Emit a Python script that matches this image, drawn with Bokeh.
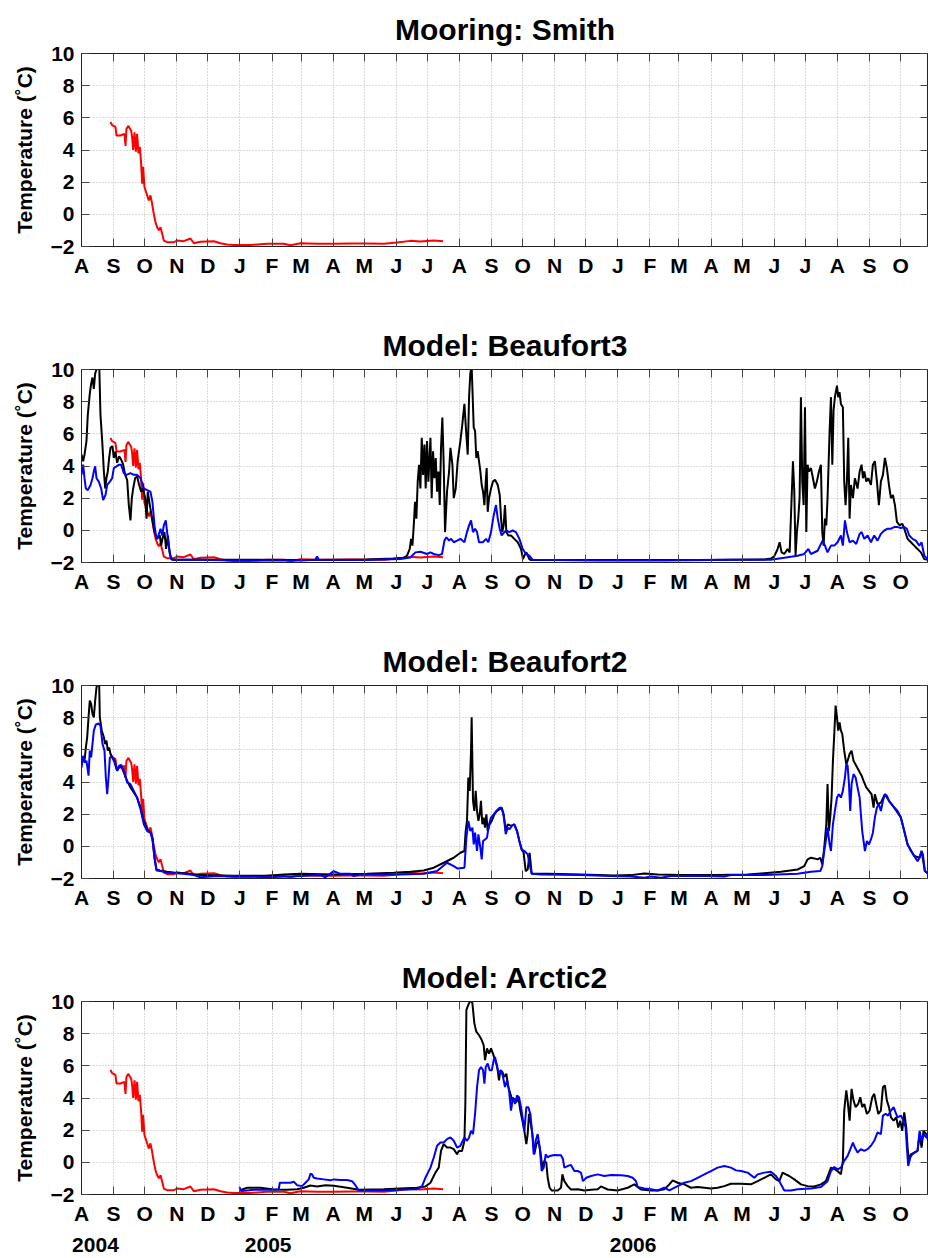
from datetime import date
from bokeh.plotting import figure
from bokeh.models import Range1d, FixedTicker, LinearAxis
from bokeh.layouts import column
from bokeh.embed import file_html
from bokeh.resources import INLINE

# ---------------- data (x = days since 1 Aug 2004, y = temperature in deg C) ----------------
mooring_smith = [
    (28.0, 5.74), (29.6, 5.54), (32.8, 5.43), (33.8, 4.9), (37.7, 4.9), (41.5, 5.0), (42.5, 4.25),
    (43.4, 5.3), (45.1, 5.5), (48.0, 5.2), (48.9, 4.8), (49.9, 4.0), (51.2, 5.1), (52.5, 3.9),
    (53.7, 5.0), (55.0, 3.8), (56.3, 4.2), (57.6, 3.15), (58.6, 1.9), (59.5, 2.95), (60.8, 1.7),
    (62.8, 1.3), (65.0, 0.86), (66.6, 1.18), (68.2, 0.66), (69.8, 0.03), (71.4, -0.48), (73.1, -0.8),
    (74.7, -1.0), (76.3, -0.8), (77.9, -1.2), (79.5, -1.63), (82.7, -1.73), (89.1, -1.73),
    (92.4, -1.63), (98.8, -1.67), (105.2, -1.5), (108.5, -1.8), (114.9, -1.7), (127.8, -1.67),
    (134.2, -1.8), (140.6, -1.88), (147.1, -1.9), (163.2, -1.9), (179.3, -1.83), (195.4, -1.83),
    (201.8, -1.92), (211.4, -1.8), (227.5, -1.83), (243.6, -1.83), (259.7, -1.81), (275.8, -1.81),
    (291.9, -1.83), (304.8, -1.75), (317.6, -1.65), (327.3, -1.69), (340.2, -1.63), (349.2, -1.67),
]

beaufort3_black = [
    (0.0, 4.71), (1.6, 4.3), (2.9, 4.7), (4.8, 5.55), (6.1, 7.2), (8.0, 8.5), (9.3, 9.1), (10.6, 9.5),
    (11.9, 8.8), (13.2, 9.75), (14.5, 10.0), (17.1, 10.4), (18.3, 7.2), (20.0, 5.55), (21.6, 3.66),
    (22.9, 2.6), (24.1, 3.25), (25.4, 3.66), (26.7, 4.5), (28.0, 5.13), (29.9, 5.24), (31.2, 4.5),
    (32.8, 4.9), (34.4, 4.2), (36.4, 4.6), (38.3, 4.4), (40.2, 4.1), (42.2, 3.45), (44.1, 3.14),
    (45.7, 1.57), (47.3, 0.62), (48.6, 2.0), (49.9, 2.6), (51.8, 3.25), (53.7, 3.35), (55.7, 2.82),
    (57.6, 2.4), (59.5, 2.6), (61.5, 2.0), (62.8, 0.73), (64.0, 2.4), (66.0, 1.57), (68.2, 0.73),
    (70.5, -0.11), (73.1, -0.53), (75.6, -0.32), (76.9, -0.95), (78.2, -0.53), (80.1, -0.11),
    (81.7, -1.16), (83.4, -0.32), (85.0, -1.37), (86.6, -1.79), (89.1, -1.83), (147.1, -1.83),
    (211.4, -1.85), (243.6, -1.83), (275.8, -1.81), (301.5, -1.75), (311.2, -1.7), (314.4, -1.58),
    (317.0, -1.16), (318.3, -0.53), (319.6, -0.95), (320.9, 0.31), (322.1, 1.78), (323.4, 0.73),
    (324.7, 3.03), (326.0, 4.08), (327.3, 2.6), (328.6, 5.76), (329.9, 3.45), (331.2, 5.34),
    (332.4, 2.6), (333.7, 5.55), (335.0, 3.03), (337.0, 5.76), (338.2, 2.0), (339.5, 4.92),
    (340.8, 3.24), (342.1, 4.5), (343.4, 2.4), (344.7, 3.66), (346.0, 1.57), (347.2, 5.13),
    (348.5, 7.02), (349.8, 4.08), (351.1, -0.11), (353.0, 2.4), (355.0, 3.66), (356.3, 5.13),
    (358.2, 4.08), (359.5, 2.0), (361.4, 2.6), (363.3, 4.3), (365.9, 5.55), (367.8, 6.6),
    (369.8, 7.86), (371.4, 6.18), (373.0, 4.71), (374.3, 8.28), (375.5, 9.75), (376.8, 10.2),
    (378.8, 6.39), (380.1, 6.18), (381.3, 4.5), (382.6, 4.92), (383.9, 4.3), (385.2, 3.66),
    (386.5, 2.82), (387.8, 2.4), (389.1, 1.57), (390.4, 3.03), (391.3, 3.87), (392.3, 1.15),
    (393.6, 2.0), (395.5, 2.6), (397.4, 3.03), (399.4, 3.14), (402.0, 2.82), (403.9, 2.2),
    (405.2, 0.73), (406.4, -0.11), (407.7, 0.31), (409.0, 1.57), (410.3, -0.11), (412.2, -0.32),
    (414.8, -0.32), (418.0, -0.53), (421.3, -0.74), (424.5, -1.16), (426.4, -1.79), (427.7, -1.58),
    (429.6, -1.37), (432.5, -1.79), (434.1, -1.85), (530.7, -1.85), (595.0, -1.85), (659.4, -1.81),
    (665.8, -1.75), (669.0, -1.62), (672.3, -1.16), (674.2, -0.74), (676.1, -1.37), (678.7, -1.47),
    (681.9, -1.16), (683.9, -1.37), (685.8, 2.0), (687.1, 4.3), (688.4, 2.4), (689.6, -1.58),
    (690.9, -0.11), (692.2, 0.73), (693.5, 2.0), (694.8, 8.28), (696.1, 3.03), (697.4, 1.57),
    (698.7, 7.65), (700.0, -0.11), (701.2, 4.08), (702.5, 3.66), (704.5, 3.87), (706.4, 3.24),
    (708.3, 2.6), (710.2, 3.03), (712.2, 3.66), (714.1, 4.08), (715.4, -0.11), (716.7, -0.95),
    (718.0, 0.73), (719.3, 0.31), (720.5, 2.0), (722.5, 6.18), (723.8, 8.28), (725.1, 4.08),
    (726.3, 7.44), (727.6, 8.28), (729.6, 9.0), (730.8, 8.28), (732.1, 8.6), (733.4, 7.86),
    (735.3, 7.65), (736.6, 3.03), (737.9, 1.57), (739.2, 3.03), (740.5, 5.76), (741.8, 0.73),
    (743.1, 2.82), (745.0, 2.0), (746.9, 3.24), (749.5, 2.6), (751.5, 3.66), (753.4, 4.08),
    (754.7, 3.24), (756.0, 3.66), (757.9, 3.03), (759.8, 3.24), (762.4, 2.82), (764.3, 4.08),
    (766.2, 4.3), (768.2, 3.03), (770.1, 1.57), (772.0, 3.03), (774.0, 3.45), (775.9, 4.5),
    (777.8, 3.87), (779.8, 2.82), (781.7, 2.0), (783.6, 2.2), (785.6, 1.57), (787.5, 0.52),
    (790.1, 0.31), (792.6, 0.41), (794.6, 0.1), (797.8, -0.53), (801.0, -0.74), (804.2, -0.95),
    (807.4, -1.16), (810.7, -1.37), (813.9, -1.79), (817.7, -1.83),
]

beaufort3_blue = [
    (0.0, 3.45), (1.6, 4.08), (2.9, 3.24), (4.2, 2.6), (6.1, 2.5), (8.7, 2.82), (10.6, 3.24),
    (11.9, 3.66), (13.2, 3.98), (14.5, 3.24), (16.7, 3.03), (19.0, 2.6), (20.9, 1.88), (23.2, 2.2),
    (24.8, 2.82), (27.4, 3.03), (29.6, 3.24), (31.2, 3.87), (33.8, 3.98), (36.0, 4.08), (38.3, 4.08),
    (40.9, 3.56), (43.4, 3.45), (47.3, 3.56), (50.5, 3.45), (53.7, 3.45), (57.0, 3.24), (60.2, 2.6),
    (63.4, 2.5), (66.6, 2.4), (68.5, 1.78), (70.5, 0.31), (72.4, -0.53), (74.3, -0.32), (76.3, 0.1),
    (77.9, -0.32), (79.5, 0.31), (81.4, 0.62), (82.7, -0.11), (84.3, -0.95), (85.9, -1.58),
    (87.5, -1.83), (114.9, -1.83), (147.1, -1.87), (211.4, -1.87), (225.9, -1.83), (227.5, -1.62),
    (229.1, -1.83), (275.8, -1.85), (308.0, -1.79), (317.6, -1.69), (322.5, -1.37), (327.3, -1.33),
    (333.7, -1.47), (337.0, -1.37), (340.2, -1.47), (345.0, -1.54), (348.2, -1.47), (350.5, -0.64),
    (352.4, -0.43), (355.0, -0.64), (356.9, -0.53), (359.5, -0.74), (362.7, -0.64), (365.9, -0.53),
    (369.8, -0.74), (372.3, -0.11), (374.3, 0.31), (376.2, 0.62), (378.1, -0.11), (380.1, 0.1),
    (382.0, -0.11), (383.9, -0.74), (387.5, -0.74), (390.7, -0.53), (392.9, -0.74), (395.5, -0.11),
    (398.1, 0.94), (400.3, 1.57), (402.0, 0.73), (403.9, 0.1), (405.8, -0.32), (408.4, -0.11),
    (410.3, -0.01), (413.2, -0.11), (416.4, -0.01), (419.6, -0.11), (422.9, -0.53), (426.1, -1.16),
    (429.3, -1.47), (432.5, -1.58), (435.7, -1.83), (498.5, -1.87), (562.9, -1.87), (627.2, -1.83),
    (665.8, -1.83), (678.7, -1.71), (691.6, -1.58), (698.0, -1.47), (701.9, -1.16), (704.5, -1.47),
    (710.9, -1.27), (715.7, -0.64), (718.0, -0.95), (720.5, -1.37), (723.8, -0.95), (727.0, -0.95),
    (730.2, -0.74), (733.4, -0.32), (735.3, -0.95), (737.3, 0.62), (739.2, -0.11), (741.8, -0.74),
    (745.0, -0.64), (748.2, -0.85), (751.5, -0.22), (753.4, -0.11), (756.0, -0.53), (759.2, -0.32),
    (762.4, -0.74), (765.6, -0.32), (768.8, -0.64), (772.0, -0.22), (775.3, -0.01), (778.5, 0.1),
    (781.7, 0.1), (784.9, 0.2), (788.1, 0.2), (791.3, 0.14), (794.6, 0.2), (797.1, 0.1),
    (799.4, -0.32), (802.6, -0.53), (805.8, -0.64), (809.1, -0.95), (811.3, -0.74), (813.9, -1.58),
    (817.7, -1.79),
]

beaufort2_black = [
    (0.0, 5.11), (1.6, 5.53), (2.9, 5.32), (4.2, 6.15), (5.5, 6.78), (6.8, 8.02), (8.0, 9.06),
    (9.3, 8.86), (10.6, 8.23), (11.9, 8.02), (13.2, 9.06), (14.5, 9.9), (15.8, 10.1), (17.1, 10.0),
    (17.7, 8.02), (19.6, 7.19), (21.6, 6.78), (22.9, 6.36), (24.1, 6.57), (25.4, 5.95), (26.7, 6.15),
    (28.0, 5.74), (29.9, 5.53), (31.9, 5.32), (34.4, 4.7), (37.0, 5.01), (38.9, 4.91), (41.5, 4.49),
    (44.1, 4.07), (47.3, 3.66), (50.5, 3.35), (53.7, 3.03), (57.0, 2.41), (60.2, 1.58), (63.4, 1.06),
    (66.6, 0.85), (68.5, 0.54), (70.5, -0.71), (72.4, -1.44), (75.6, -1.5), (82.7, -1.58),
    (92.4, -1.65), (105.2, -1.71), (114.9, -1.79), (147.1, -1.83), (179.3, -1.83), (195.4, -1.75),
    (211.4, -1.71), (243.6, -1.75), (275.8, -1.71), (301.5, -1.65), (317.6, -1.58), (330.5, -1.5),
    (340.2, -1.33), (349.8, -1.02), (359.5, -0.71), (365.9, -0.4), (369.8, -0.29), (371.0, 0.95),
    (372.3, 1.58), (373.6, 4.28), (374.9, 3.45), (376.2, 5.95), (376.8, 8.02), (378.1, 2.83),
    (379.4, 2.2), (380.7, 3.45), (382.0, 2.2), (383.3, 1.58), (384.6, 1.99), (385.8, 2.83),
    (387.1, 1.37), (388.4, 1.79), (389.7, 1.16), (391.0, 1.99), (392.3, 0.95), (394.2, 1.37),
    (396.2, 1.58), (398.7, 1.99), (401.3, 2.2), (403.9, 2.31), (405.8, 2.41), (407.7, 1.99),
    (409.7, 0.95), (411.6, 1.37), (414.8, 1.27), (418.0, 1.37), (420.6, 0.95), (422.9, 0.33),
    (425.1, -0.19), (427.0, -0.4), (429.0, -1.54), (430.9, -1.44), (432.8, -0.4), (434.8, -1.71),
    (450.2, -1.71), (482.4, -1.75), (514.6, -1.81), (530.7, -1.79), (543.5, -1.69), (556.4, -1.75),
    (579.0, -1.79), (611.1, -1.79), (643.3, -1.75), (659.4, -1.67), (675.5, -1.58), (691.6, -1.44),
    (698.0, -1.23), (701.2, -0.81), (704.5, -0.71), (707.7, -0.75), (710.9, -0.81), (713.5, -0.71),
    (715.4, -1.13), (717.3, -0.09), (719.3, 1.37), (720.5, 3.87), (721.8, 0.95), (723.1, 1.79),
    (724.4, 3.03), (725.7, 5.32), (727.0, 6.99), (728.3, 8.75), (729.6, 8.02), (730.8, 7.19),
    (732.1, 7.71), (733.4, 7.19), (734.7, 6.99), (736.6, 5.95), (738.6, 5.11), (739.9, 5.32),
    (741.8, 5.74), (743.7, 5.95), (745.6, 5.32), (748.2, 5.01), (750.8, 4.7), (753.4, 4.39),
    (755.3, 4.07), (757.9, 3.66), (760.5, 3.45), (763.0, 3.24), (765.0, 2.41), (766.2, 3.24),
    (768.8, 2.62), (772.0, 2.72), (775.9, 3.24), (779.8, 2.83), (784.9, 2.41), (791.3, 1.79),
    (797.8, 0.12), (804.2, -0.6), (809.4, -0.71), (811.3, -0.29), (814.5, -1.54), (817.7, -1.71),
]

beaufort2_blue = [
    (0.0, 4.9), (1.6, 5.63), (2.9, 5.22), (4.8, 5.32), (6.8, 4.39), (8.0, 5.95), (9.3, 5.53),
    (10.6, 6.36), (11.9, 7.19), (13.8, 7.57), (16.4, 7.65), (18.3, 7.5), (20.3, 6.36), (22.2, 5.95),
    (23.5, 4.28), (24.8, 3.24), (26.1, 4.28), (27.4, 5.53), (29.3, 5.57), (31.9, 5.22), (34.4, 4.7),
    (36.4, 5.01), (38.3, 5.07), (40.9, 4.7), (44.1, 3.97), (47.3, 3.87), (50.5, 3.45), (53.7, 3.03),
    (57.0, 2.31), (60.2, 1.37), (63.4, 0.95), (66.6, 0.85), (68.5, 0.43), (70.5, -0.71),
    (72.4, -1.5), (76.3, -1.54), (82.7, -1.65), (98.8, -1.71), (108.5, -1.79), (114.9, -1.92),
    (131.0, -1.85), (163.2, -1.88), (179.3, -1.92), (211.4, -1.85), (230.7, -1.79), (235.6, -1.92),
    (243.6, -1.54), (250.1, -1.71), (259.7, -1.71), (262.9, -1.85), (269.4, -1.75), (308.0, -1.75),
    (330.5, -1.71), (343.4, -1.54), (353.0, -1.02), (359.5, -1.23), (363.3, -1.38), (369.8, -1.33),
    (371.7, 0.54), (373.6, 1.58), (375.5, 0.95), (377.5, 1.16), (378.8, 0.12), (380.1, 0.85),
    (382.0, -0.29), (383.3, 0.75), (385.2, -0.09), (386.5, -0.81), (387.8, 0.33), (389.7, 0.43),
    (391.6, 0.54), (393.6, 1.37), (395.5, 1.79), (398.1, 1.99), (400.7, 2.2), (403.2, 2.37),
    (405.2, 2.41), (407.1, 2.1), (408.4, 1.58), (409.7, 0.75), (411.6, 1.16), (413.5, 1.06),
    (415.5, 1.27), (418.0, 1.37), (420.6, 0.95), (423.2, 0.23), (425.1, -0.19), (427.7, -0.29),
    (430.9, -0.5), (432.8, -1.13), (434.8, -1.71), (443.8, -1.75), (482.4, -1.79), (511.4, -1.85),
    (530.7, -1.88), (543.5, -1.96), (550.0, -1.88), (559.6, -1.96), (569.3, -1.85), (595.0, -1.83),
    (620.8, -1.88), (627.2, -1.79), (659.4, -1.79), (691.6, -1.71), (704.5, -1.58), (713.5, -1.54),
    (715.4, -1.23), (717.3, -0.29), (719.3, 0.54), (720.5, 1.16), (722.5, 0.12), (723.8, -0.29),
    (725.7, 1.37), (727.6, 2.2), (729.6, 3.03), (731.5, 3.24), (733.4, 3.03), (735.3, 3.45),
    (737.3, 4.28), (738.6, 5.11), (739.9, 5.01), (741.2, 3.87), (742.4, 2.2), (743.7, 3.87),
    (745.6, 4.49), (747.6, 4.28), (749.5, 3.66), (751.5, 3.03), (752.7, 1.99), (754.0, 0.95),
    (755.3, 0.33), (756.6, -0.29), (758.5, 0.33), (760.5, 0.12), (762.4, 0.43), (764.3, 0.85),
    (766.2, 1.79), (768.2, 2.41), (770.1, 2.62), (772.0, 2.2), (774.0, 2.83), (775.9, 3.24),
    (777.8, 3.14), (779.8, 2.83), (782.3, 2.62), (784.9, 2.41), (788.1, 2.2), (791.3, 1.79),
    (794.6, 0.95), (797.8, 0.12), (801.0, -0.29), (804.2, -0.6), (807.4, -0.92), (809.4, -0.71),
    (811.3, -0.29), (812.6, -0.5), (814.5, -1.54), (817.7, -1.71),
]

arctic2_black = [
    (152.5, -1.75), (160.0, -1.58), (172.8, -1.58), (185.7, -1.69), (198.6, -1.71), (208.2, -1.67),
    (214.7, -1.58), (221.1, -1.44), (227.5, -1.5), (235.6, -1.42), (243.6, -1.46), (256.5, -1.58),
    (267.8, -1.71), (291.9, -1.67), (308.0, -1.62), (324.1, -1.58), (332.1, -1.5), (337.0, -1.27),
    (341.8, -0.64), (345.0, -0.33), (347.2, 0.71), (349.8, 1.13), (353.0, 0.92), (356.3, 0.92),
    (359.5, 0.82), (362.7, 0.5), (364.3, 0.71), (367.5, 0.71), (369.8, 1.34), (370.7, 3.63),
    (371.7, 9.48), (373.0, 9.69), (374.3, 9.9), (375.5, 10.1), (377.5, 9.9), (379.4, 8.64),
    (381.3, 8.12), (383.9, 7.91), (386.5, 7.6), (388.4, 7.29), (389.7, 6.35), (391.6, 7.08),
    (393.6, 6.76), (395.5, 7.08), (397.4, 6.76), (399.4, 6.35), (401.3, 6.03), (403.2, 5.1),
    (404.5, 5.72), (406.4, 5.62), (408.4, 5.3), (410.3, 5.51), (412.2, 4.68), (414.2, 4.26),
    (416.1, 3.84), (418.0, 3.95), (420.0, 3.74), (421.9, 4.05), (423.8, 3.22), (425.8, 2.59),
    (427.7, 1.96), (429.6, 1.13), (430.9, 1.76), (432.2, 3.01), (433.5, 2.59), (435.4, 1.76),
    (437.3, 0.5), (439.3, 1.13), (441.2, 1.34), (443.1, 0.71), (445.1, -0.33), (447.0, 0.09),
    (448.9, -0.02), (450.2, -0.96), (452.1, -1.58), (454.1, -1.75), (459.9, -1.75), (463.1, -1.58),
    (464.4, -0.75), (466.3, -1.17), (469.5, -1.48), (472.7, -1.69), (479.2, -1.67), (485.6, -1.75),
    (492.1, -1.71), (498.5, -1.67), (501.7, -1.5), (508.1, -1.69), (517.8, -1.75), (527.5, -1.58),
    (533.9, -1.37), (540.3, -1.69), (550.0, -1.75), (556.4, -1.75), (562.9, -1.67), (567.7, -1.37),
    (570.9, -1.12), (575.7, -1.27), (582.2, -1.37), (588.6, -1.58), (595.0, -1.54), (601.5, -1.58),
    (607.9, -1.62), (614.3, -1.58), (620.8, -1.48), (627.2, -1.33), (636.9, -1.33), (646.5, -1.37),
    (653.0, -1.17), (659.4, -0.96), (665.8, -0.75), (670.7, -1.06), (673.9, -1.17), (677.1, -0.64),
    (680.3, -0.75), (683.5, -0.85), (688.4, -1.06), (694.8, -1.37), (701.2, -1.48), (707.7, -1.5),
    (714.1, -1.37), (718.9, -1.17), (723.8, -0.33), (727.6, -0.44), (730.2, -0.54), (733.4, -0.75),
    (735.3, 0.09), (736.6, 3.22), (738.6, 4.47), (739.9, 3.84), (741.8, 2.59), (743.7, 4.57),
    (745.6, 3.84), (747.6, 3.43), (750.1, 3.63), (752.1, 4.05), (754.0, 3.43), (756.0, 3.63),
    (758.5, 3.01), (761.1, 3.22), (763.7, 4.05), (765.6, 4.26), (767.5, 3.63), (769.5, 3.01),
    (772.0, 3.22), (774.0, 4.68), (775.9, 4.78), (777.8, 3.84), (779.8, 3.43), (781.7, 2.8),
    (784.3, 2.59), (786.8, 2.8), (788.8, 2.17), (790.7, 2.59), (792.6, 1.96), (794.6, 3.11),
    (796.5, 2.17), (797.8, 0.92), (799.1, 0.09), (801.0, 0.5), (804.2, 0.61), (807.4, 0.71),
    (809.4, 1.76), (811.3, 0.92), (813.2, 1.96), (815.8, 1.76), (817.7, 1.34),
]

arctic2_blue = [
    (152.5, -1.54), (154.2, -1.79), (160.0, -1.75), (166.4, -1.71), (176.0, -1.71), (185.7, -1.71),
    (190.5, -1.67), (191.5, -1.27), (195.4, -1.27), (201.8, -1.27), (205.0, -1.21), (208.2, -1.42),
    (213.1, -1.48), (216.3, -1.27), (219.5, -1.06), (221.1, -0.71), (222.7, -0.75), (224.3, -0.96),
    (227.5, -1.0), (234.0, -1.06), (240.4, -1.12), (243.6, -1.06), (250.1, -1.1), (256.5, -1.1),
    (261.3, -1.17), (264.5, -1.42), (267.8, -1.75), (272.6, -1.75), (291.9, -1.75), (308.0, -1.71),
    (324.1, -1.67), (328.9, -1.48), (332.1, -0.96), (337.0, -0.33), (340.2, 0.3), (343.4, 1.03),
    (346.6, 1.23), (349.8, 1.23), (353.0, 1.44), (356.3, 1.55), (359.5, 1.34), (362.7, 0.92),
    (365.9, 1.03), (369.8, 1.55), (372.3, 1.34), (374.3, 1.55), (376.2, 1.96), (378.1, 1.76),
    (380.1, 3.01), (382.0, 4.68), (383.9, 5.72), (385.8, 5.93), (387.8, 5.72), (389.1, 4.89),
    (390.4, 5.93), (392.3, 6.14), (394.2, 5.72), (396.2, 5.72), (398.1, 6.35), (399.4, 6.56),
    (401.3, 5.93), (403.2, 5.51), (405.2, 5.72), (407.1, 5.3), (409.0, 4.68), (411.0, 5.1),
    (412.9, 4.47), (414.8, 3.22), (416.7, 4.05), (418.7, 3.63), (420.6, 4.16), (422.5, 4.05),
    (424.5, 3.43), (426.4, 2.59), (427.7, 1.96), (429.6, 3.43), (431.5, 3.43), (433.5, 3.01),
    (435.4, 1.76), (436.7, 0.5), (438.6, 1.34), (440.6, 1.76), (442.5, 0.92), (444.4, -0.54),
    (446.4, -0.33), (448.3, 0.5), (450.2, 0.3), (452.1, 0.4), (456.6, 0.46), (463.1, 0.44),
    (465.0, 0.19), (466.3, -0.33), (469.5, -0.23), (472.7, -0.16), (476.0, -0.54), (479.2, -0.54),
    (482.4, -0.64), (484.3, -1.17), (487.5, -0.96), (492.1, -0.85), (498.5, -0.75), (504.9, -0.85),
    (511.4, -0.79), (521.0, -0.81), (527.5, -0.85), (532.3, -0.96), (535.5, -1.17), (537.1, -1.54),
    (543.5, -1.62), (550.0, -1.67), (556.4, -1.75), (562.9, -1.58), (567.7, -1.75), (575.7, -1.48),
    (582.2, -1.27), (588.6, -1.17), (595.0, -0.96), (601.5, -0.75), (607.9, -0.54), (614.3, -0.33),
    (620.8, -0.23), (627.2, -0.33), (632.1, -0.5), (636.9, -0.54), (643.3, -0.64), (649.8, -0.96),
    (653.0, -0.75), (659.4, -0.64), (665.8, -0.58), (670.7, -0.85), (673.9, -1.17), (678.7, -1.75),
    (685.1, -1.75), (691.6, -1.67), (704.5, -1.62), (714.1, -1.54), (720.5, -1.17), (723.8, -0.54),
    (727.0, -0.29), (730.2, -0.44), (733.4, -0.33), (736.6, 0.09), (739.9, 0.4), (743.1, 0.92),
    (745.0, 1.23), (746.9, 0.92), (749.5, 0.61), (752.7, 0.82), (756.0, 0.71), (759.2, 0.82),
    (762.4, 1.03), (765.6, 1.34), (768.8, 1.86), (772.0, 1.76), (774.0, 2.91), (776.6, 3.01),
    (779.1, 2.91), (781.7, 3.22), (784.3, 3.43), (786.2, 3.11), (788.1, 2.8), (791.3, 2.91),
    (793.9, 2.59), (795.9, 2.17), (797.1, 0.92), (798.4, -0.23), (800.4, 0.3), (802.3, 0.5),
    (804.9, 0.61), (807.4, 0.71), (809.4, 1.96), (811.3, 1.34), (813.2, 1.76), (815.8, 1.55),
    (817.7, 1.76),
]

panel_titles = ["Mooring: Smith", "Model: Beaufort3", "Model: Beaufort2", "Model: Arctic2"]
y_ticks = [-2, 0, 2, 4, 6, 8, 10]
year_labels = ["2004", "2005", "2006"]
year_label_days = [13.5, 180.3, 532.7]

# ---------------- month ticks ----------------
START = date(2004, 8, 1)
X_END = 818
month_days, month_letters = [], []
yy, mm = 2004, 8
while (yy, mm) <= (2006, 10):
    month_days.append((date(yy, mm, 1) - START).days)
    month_letters.append("JFMAMJJASOND"[mm - 1])
    mm += 1
    if mm == 13:
        mm, yy = 1, yy + 1

FONT = "Liberation Sans"
TICK_COLOR = "#444444"
FRAME_COLOR = "#222222"


def xy(series):
    return [d for d, _ in series], [t for _, t in series]


def ticks_only_axis(ticks):
    ax = LinearAxis(ticker=FixedTicker(ticks=ticks))
    ax.major_label_text_font_size = "0px"
    ax.major_label_text_color = None
    ax.major_label_text_alpha = 0
    ax.major_label_standoff = 0
    ax.major_tick_in = 8
    ax.major_tick_out = 0
    ax.minor_tick_line_color = None
    ax.major_tick_line_color = TICK_COLOR
    ax.axis_line_color = FRAME_COLOR
    return ax


def make_panel(title, lines, height, bottom, years=False):
    p = figure(width=928, height=height, x_range=Range1d(0, X_END), y_range=Range1d(-2, 10),
               output_backend="svg", toolbar_location=None,
               min_border_left=81, min_border_right=0, min_border_top=53,
               min_border_bottom=bottom)
    p.background_fill_color = "white"
    p.border_fill_color = "white"
    p.outline_line_color = FRAME_COLOR
    p.outline_line_width = 1

    p.title.text = title
    p.title.align = "center"
    p.title.text_font = FONT
    p.title.text_font_size = "30px"
    p.title.text_font_style = "bold"
    p.title.text_color = "black"
    p.title.standoff = 16

    xa = p.xaxis[0]
    xa.ticker = FixedTicker(ticks=month_days)
    xa.major_label_overrides = dict(zip(month_days, month_letters))
    ya = p.yaxis[0]
    ya.ticker = FixedTicker(ticks=y_ticks)
    ya.axis_label = "Temperature (\u02daC)"
    for ax in (xa, ya):
        ax.major_label_text_font = FONT
        ax.major_label_text_font_size = "21px"
        ax.major_label_text_font_style = "bold"
        ax.major_label_text_color = "black"
        ax.major_tick_in = 8
        ax.major_tick_out = 0
        ax.minor_tick_line_color = None
        ax.major_tick_line_color = TICK_COLOR
        ax.axis_line_color = FRAME_COLOR
    xa.major_label_standoff = 7
    ya.major_label_standoff = 7
    ya.axis_label_text_font = FONT
    ya.axis_label_text_font_size = "21px"
    ya.axis_label_text_font_style = "bold"
    ya.axis_label_text_color = "black"
    ya.axis_label_standoff = 12

    p.add_layout(ticks_only_axis(month_days), "above")
    p.add_layout(ticks_only_axis(y_ticks), "right")

    p.xgrid.ticker = FixedTicker(ticks=month_days)
    p.ygrid.ticker = FixedTicker(ticks=y_ticks)
    for g in (p.xgrid, p.ygrid):
        g.grid_line_color = "#b8b8b8"
        g.grid_line_dash = "1 2"
        g.grid_line_width = 1

    for series, color in lines:
        xs, ys = xy(series)
        p.line(xs, ys, line_color=color, line_width=2)

    if years:
        ax = LinearAxis(ticker=FixedTicker(ticks=year_label_days))
        ax.major_label_overrides = dict(zip(year_label_days, year_labels))
        ax.major_label_text_font = FONT
        ax.major_label_text_font_size = "21px"
        ax.major_label_text_font_style = "bold"
        ax.major_label_text_color = "black"
        ax.major_label_standoff = 4
        ax.major_tick_line_color = None
        ax.minor_tick_line_color = None
        ax.axis_line_color = None
        p.add_layout(ax, "below")
    return p


RED, BLACK, BLUE = "#ff0000", "#000000", "#0000ff"
p1 = make_panel(panel_titles[0], [(mooring_smith, RED)], 316, 70)
p2 = make_panel(panel_titles[1], [(mooring_smith, RED), (beaufort3_black, BLACK), (beaufort3_blue, BLUE)], 316, 70)
p3 = make_panel(panel_titles[2], [(mooring_smith, RED), (beaufort2_black, BLACK), (beaufort2_blue, BLUE)], 316, 70)
p4 = make_panel(panel_titles[3], [(mooring_smith, RED), (arctic2_black, BLACK), (arctic2_blue, BLUE)], 310, 64, years=True)

layout = column(p1, p2, p3, p4, spacing=0)
open("out.html", "w").write(file_html(layout, INLINE))
